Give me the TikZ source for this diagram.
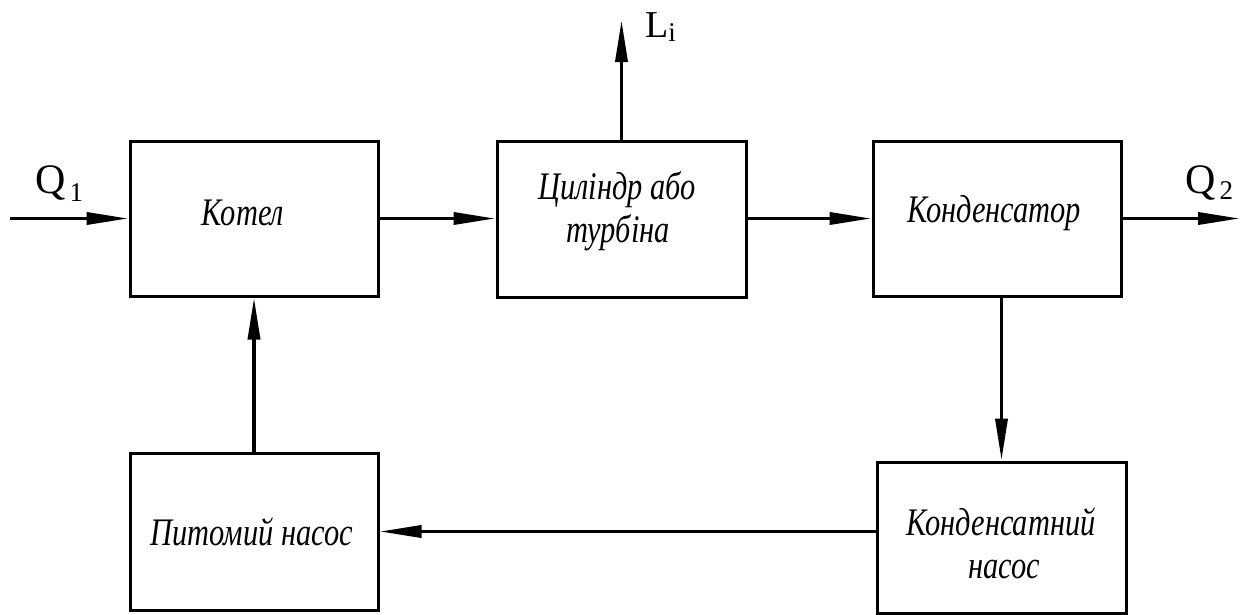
\documentclass[tikz,border=0pt]{standalone}
\usepackage{fontspec}
\setmainfont{Liberation Serif}
\newfontfamily\boxfont[FakeStretch=0.78]{Liberation Serif}
\usetikzlibrary{arrows.meta}
\begin{document}
\begin{tikzpicture}[x=1pt,y=-1pt,
  box/.style={draw, line width=3pt, rectangle, inner sep=0pt},
  arr/.style={line width=3.6pt, -{Triangle[length=42pt,width=12pt]}},
  lbl/.style={inner sep=0pt, anchor=base, font=\boxfont\itshape\fontsize{39}{44}\selectfont},
  sym/.style={inner sep=0pt, anchor=base west}]
\useasboundingbox (0,0) rectangle (1248,614);
\node[box, minimum width=248pt, minimum height=155pt] (kotel) at (254,218.5) {};
\node[box, minimum width=249pt, minimum height=156pt] (cyl) at (621.5,219) {};
\node[box, minimum width=248pt, minimum height=155pt] (cond) at (997,218.5) {};
\node[box, minimum width=248pt, minimum height=157pt] (pump1) at (254,531.5) {};
\node[box, minimum width=249pt, minimum height=151pt] (pump2) at (1001.5,537.5) {};

\node[lbl] (tkotel) at (243,225) {Котел};
\node[lbl] (tcyl1) at (617,199) {Циліндр або};
\node[lbl] (tcyl2) at (618,242) {турбіна};
\node[lbl] (tcond) at (994,222) {Конденсатор};
\node[lbl] (tpump1) at (252,545) {Питомий насос};
\node[lbl] (tpump2a) at (1001,535) {Конденсатний};
\node[lbl] (tpump2b) at (1004,578) {насос};

\node[sym] (q1) at (35,193) {\fontsize{42}{42}\selectfont Q\hspace{4pt}\raisebox{-8pt}{\fontsize{27}{27}\selectfont 1}};
\node[sym] (q2) at (1185,193) {\fontsize{42}{42}\selectfont Q\hspace{4pt}\raisebox{-6pt}{\fontsize{27}{27}\selectfont 2}};
\node[sym] (li) at (645,37) {\fontsize{38}{38}\selectfont L\raisebox{-4pt}{\fontsize{27}{27}\selectfont i}};

\coordinate (q1s) at (10,218.5);
\coordinate (q2e) at (1240,218.5);
\coordinate (lie) at (621.5,20);

\draw[arr] (q1s) -- (kotel.west);
\draw[arr] (kotel.east) -- (cyl.west |- kotel.east);
\draw[arr] (cyl.east |- cond.west) -- (cond.west);
\draw[arr] (cond.east) -- (q2e);
\draw[arr] (cyl.north) -- (lie);
\draw[arr] (cond.south -| pump2.north) -- (pump2.north);
\draw[arr] (pump2.west |- pump1.east) -- (pump1.east);
\draw[arr] (pump1.north) -- (kotel.south);
\end{tikzpicture}
\end{document}
